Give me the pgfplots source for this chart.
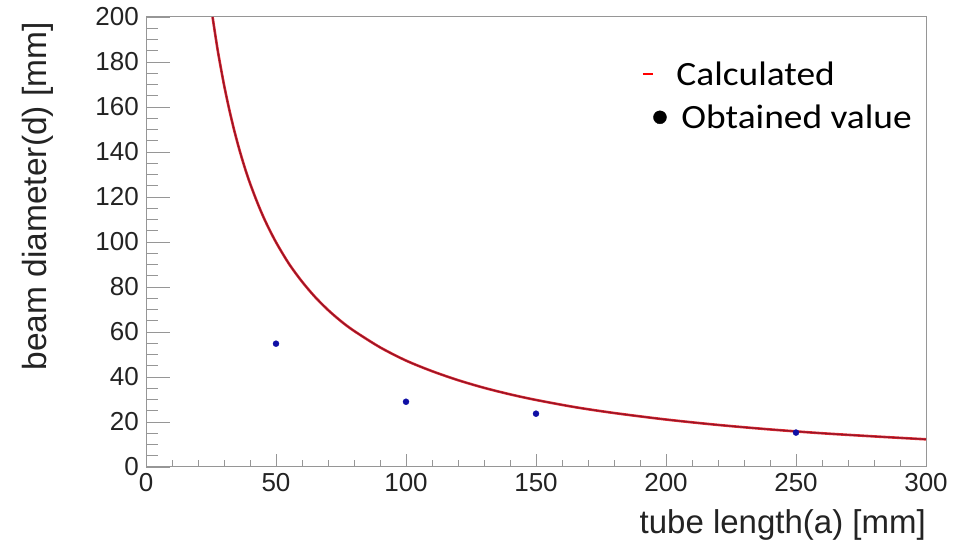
\documentclass[border=0pt]{standalone}
\usepackage{pgfplots}
\pgfplotsset{compat=1.18}
\usepackage{pgfplotstable}
\usepackage{fontspec}
\setmainfont{Liberation Sans}
\newfontfamily\legendfont[FakeStretch=1.1]{Carlito}

\definecolor{curveouter}{RGB}{225,45,50}
\definecolor{curveinner}{RGB}{150,20,40}
\definecolor{ptblue}{RGB}{15,15,165}
\definecolor{axisgray}{RGB}{150,150,150}
\definecolor{labelgray}{RGB}{35,35,35}

% calculated beam diameter d versus tube length a
\pgfplotstableread{
a     d
25.6  200.0
27    189.4
28    182.4
30    169.9
32    159.0
34    149.3
36    140.7
38    133.0
40    126.1
43    117.0
46    109.0
50    99.9
55    90.3
60    82.4
65    75.6
70    69.8
75    64.8
80    60.5
90    53.2
100   47.3
110   42.6
120   38.6
130   35.2
140   32.3
150   29.8
165   26.6
180   24.0
200   21.1
220   18.7
240   16.7
260   15.0
280   13.6
300   12.3
}\calculated

% measured beam diameters
\pgfplotstableread{
a     d
50    54.8
100   29.0
150   23.7
250   15.3
}\measured

\begin{document}
\begin{tikzpicture}[x=1pt,y=1pt]
\useasboundingbox (0,0) rectangle (961,548);
\begin{axis}[
  at={(146pt,81pt)}, anchor=south west,
  scale only axis, width=780pt, height=450pt,
  xmin=0, xmax=300, ymin=0, ymax=200,
  xtick={0,50,...,300}, ytick={0,20,...,200},
  minor x tick num=4, minor y tick num=3,
  tick pos=left, tick align=inside,
  major tick length=13pt, minor tick length=7pt,
  major y tick style={/pgfplots/major tick length=24pt},
  minor y tick style={/pgfplots/minor tick length=12pt},
  axis line style={axisgray, line width=1pt},
  every tick/.style={axisgray, line width=0.9pt},
  /pgf/number format/assume math mode=true,
  tick label style={font=\fontsize{26}{28}\selectfont, text=labelgray},
  xticklabel style={inner sep=0pt, yshift=-6pt},
  yticklabel style={inner sep=0pt, xshift=-7pt},
  xlabel={tube length(a) [mm]},
  ylabel={beam diameter(d) [mm]},
  label style={font=\fontsize{33.5}{36}\selectfont, text=labelgray, inner sep=0pt},
  xlabel style={at={(axis description cs:1,-0.1289)}, anchor=east,
    font=\fontsize{33}{36}\selectfont},
  ylabel style={at={(axis description cs:-0.1385,0.9889)}, anchor=east, rotate=0},
  legend style={draw=none, fill=none, at={(axis description cs:0.632,0.909)},
    anchor=north west, font=\legendfont\fontsize{34}{38}\selectfont,
    row sep=15pt, nodes={inner sep=1.5pt}},
  legend cell align=left,
  clip=true,
]
\addlegendimage{legend image code/.code={
  \path[draw=none, fill=none] (0pt,-8pt) rectangle (32pt,8pt);
  \draw[red, line width=1.6pt] (0pt,0pt) -- (10pt,0pt);}}
\addlegendentry{Calculated}
\addlegendimage{legend image code/.code={
  \path[draw=none, fill=none] (0pt,-8pt) rectangle (32pt,8pt);
  \fill[black] (17pt,0pt) circle (6.5pt);}}
\addlegendentry{\hspace{5pt}Obtained value}

\addplot[forget plot, smooth, curveouter, line width=2.6pt] table[x=a, y=d] {\calculated};
\addplot[forget plot, smooth, curveinner, line width=1.3pt] table[x=a, y=d] {\calculated};
\addplot[forget plot, only marks, mark=*, mark size=3pt,
  mark options={fill=ptblue, draw=ptblue}] table[x=a, y=d] {\measured};
\end{axis}
\end{tikzpicture}
\end{document}
